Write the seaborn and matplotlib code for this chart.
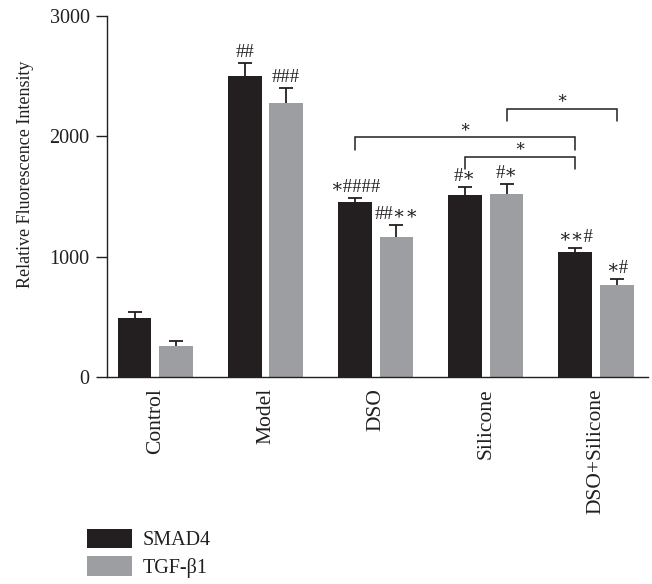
import numpy as np
import pandas as pd
import seaborn as sns
import matplotlib.pyplot as plt
from matplotlib.patches import Patch

# ---- data -------------------------------------------------------------
groups = ["Control", "Model", "DSO", "Silicone", "DSO+Silicone"]
markers = ["SMAD4", "TGF-β1"]

smad4 = [490, 2500, 1450, 1510, 1035]
smad4_sem = [52, 110, 35, 70, 35]
tgfb1 = [258, 2275, 1160, 1517, 767]
tgfb1_sem = [42, 125, 103, 86, 47]

smad4_marks = ["", "##", "∗####", "#∗", "∗∗#"]
tgfb1_marks = ["", "###", "##∗∗", "#∗", "∗#"]

# pairwise comparisons: (group, marker) -> (group, marker), bracket level
bracket_from = [("Silicone", "TGF-β1"), ("DSO", "SMAD4"), ("Silicone", "SMAD4")]
bracket_to = [("DSO+Silicone", "TGF-β1"), ("DSO+Silicone", "SMAD4"), ("DSO+Silicone", "SMAD4")]
bracket_level = [2225, 1990, 1830]
bracket_label = ["∗", "∗", "∗"]
bracket_drop = 100

y_ticks = [0, 1000, 2000, 3000]

# ---- style -------------------------------------------------------------
INK = "#231f20"
palette = {"SMAD4": "#231f20", "TGF-β1": "#9d9ea2"}

sns.set_style("ticks")
plt.rcParams["font.family"] = ["Liberation Serif", "DejaVu Serif"]
plt.rcParams["text.color"] = INK
plt.rcParams["axes.labelcolor"] = INK
plt.rcParams["xtick.color"] = INK
plt.rcParams["ytick.color"] = INK
plt.rcParams["axes.edgecolor"] = INK

df = pd.DataFrame({
    "group": groups * 2,
    "marker": [markers[0]] * len(groups) + [markers[1]] * len(groups),
    "value": smad4 + tgfb1,
})

fig = plt.figure(figsize=(6.52, 5.84), dpi=100)
ax = fig.add_axes([0.1646, 0.3545, 0.8293, 0.6182])

sns.barplot(data=df, x="group", y="value", hue="marker", order=groups,
            hue_order=markers, palette=palette, width=0.753, gap=0.19,
            errorbar=None, linewidth=0, saturation=1, legend=False, ax=ax)

# bar positions per (group, marker)
bar_pos = {}
bar_top = {}
for marker, container in zip(markers, ax.containers):
    for g, bar in zip(groups, container):
        bar_pos[(g, marker)] = bar.get_x() + bar.get_width() / 2
        bar_top[(g, marker)] = bar.get_height()

# upper-only error bars with caps
for marker, sems, marks in zip(markers, [smad4_sem, tgfb1_sem],
                               [smad4_marks, tgfb1_marks]):
    xs = np.array([bar_pos[(g, marker)] for g in groups])
    ys = np.array([bar_top[(g, marker)] for g in groups])
    err = np.array(sems, dtype=float)
    _, caps, _ = ax.errorbar(xs, ys, yerr=[np.zeros_like(err), err], fmt="none",
                             ecolor=INK, elinewidth=1.3, capsize=4.8,
                             capthick=1.3, zorder=3)
    caps[0].set_visible(False)
    for x, y, e, m in zip(xs, ys, err, marks):
        if m:
            ax.annotate(m, (x, y + e), xytext=(0, 1.5), textcoords="offset points",
                        ha="center", va="bottom", fontsize=13.5, color=INK)

# significance brackets
for a, b, lvl, lab in zip(bracket_from, bracket_to, bracket_level, bracket_label):
    x0, x1 = bar_pos[a], bar_pos[b]
    ax.plot([x0, x0, x1, x1], [lvl - bracket_drop, lvl, lvl, lvl - bracket_drop],
            color=INK, lw=1.1, solid_joinstyle="miter", zorder=3)
    ax.text((x0 + x1) / 2, lvl + 88, lab, ha="center", va="center",
            fontsize=12, color=INK)

# ---- axes --------------------------------------------------------------
ax.set_ylim(0, 3000)
ax.set_xlim(-0.435, 4.472)
ax.set_yticks(y_ticks)
ax.set_xlabel("")
ax.set_ylabel("Relative Fluorescence Intensity", fontsize=13)
ax.yaxis.set_label_coords(-0.136, 0.56)
ax.tick_params(axis="y", length=7.7, width=1.0, labelsize=14.5, pad=5)
ax.tick_params(axis="x", length=0, labelsize=15.5, pad=8, labelrotation=90)
sns.despine(ax=ax)
for side in ("left", "bottom"):
    ax.spines[side].set_linewidth(1.0)

handles = [Patch(facecolor=palette[m], edgecolor="none", label=m) for m in markers]
fig.legend(handles=handles, loc="upper left",
           bbox_to_anchor=(87.3 / 652, 1 - 529 / 584), frameon=False,
           borderpad=0, borderaxespad=0, handlelength=2.23, handleheight=1.09,
           handletextpad=0.5, labelspacing=0.3, fontsize=14.5)

fig.savefig("out.png", dpi=100)
